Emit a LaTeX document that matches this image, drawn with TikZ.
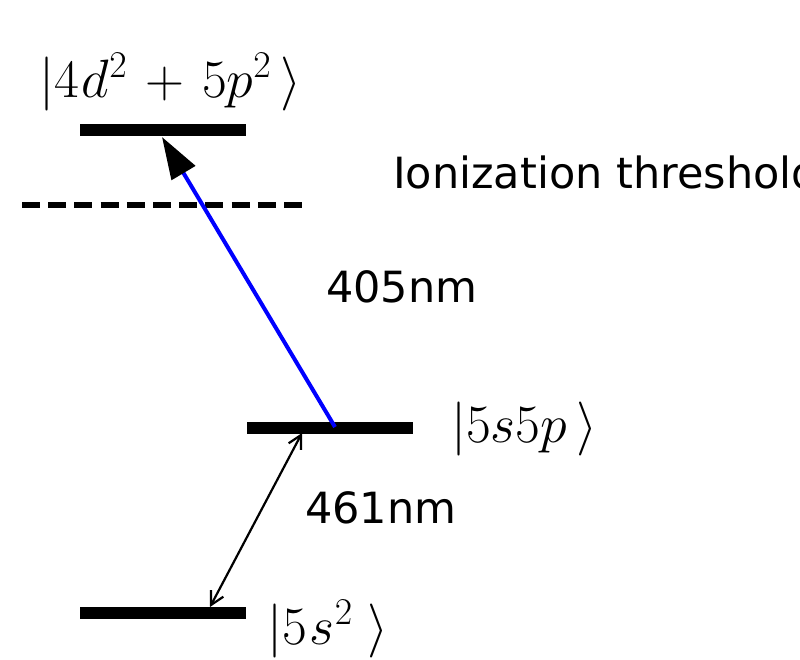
\RequirePackage{fix-cm}
\documentclass[tikz,border=0pt]{standalone}
\usepackage{fontspec}
\setsansfont{DejaVu Sans}
\usepackage{tikz}
\usetikzlibrary{arrows.meta, positioning}

\tikzset{
  statebar/.style={line width=12pt},
  threshline/.style={line width=6pt, dash pattern=on 18pt off 8.2pt},
  wavelabel/.style={font=\sffamily\fontsize{43}{50}\selectfont, anchor=base west, inner sep=0pt},
  ketlabel/.style={font=\fontsize{54}{64}\selectfont, anchor=base west, inner sep=0pt},
}

\begin{document}
\begin{tikzpicture}[x=1pt, y=-1pt]
			\useasboundingbox (0, 0) rectangle (800, 659);
			% Levels and threshold:
			\draw[statebar] (80, 130) -- (246, 130);
			\draw[statebar] (247, 427.5) -- (413, 427.5);
			\draw[statebar] (80, 613) -- (246, 613);
			\draw[threshline] (22, 205) -- (302, 205);
			% Points the lasers start and end on:
			\coordinate (ion) at (162, 137);
			\coordinate (mid) at (335, 427);
			\coordinate (midtip) at (302, 433);
			\coordinate (gnd) at (210, 607);
			% Transitions:
			\draw[blue, line width=4pt, -{Triangle[length=42pt, width=27pt, color=black]}] (mid) -- (ion);
			\draw[line width=2.2pt, {Straight Barb[length=13pt, width=14pt]}-{Straight Barb[length=13pt, width=14pt]}] (gnd) -- (midtip);
			% Labels:
			\node[ketlabel](K1) at (39, 97){$|4\mkern1mu d^2\mkern2mu+\mkern2mu5p^2\mkern3mu\rangle$};
			\node[ketlabel](K2) at (451, 442){$|5s5p\mkern3mu\rangle$};
			\node[ketlabel](K3) at (267, 644){$|5\mkern1mu s^2\mkern5mu\rangle$};
			\node[wavelabel](T1) at (393, 188){Ionization threshold};
			\node[wavelabel](W1) at (326, 302){405nm};
			\node[wavelabel](W2) at (305, 523){461nm};
		\end{tikzpicture}
\end{document}
